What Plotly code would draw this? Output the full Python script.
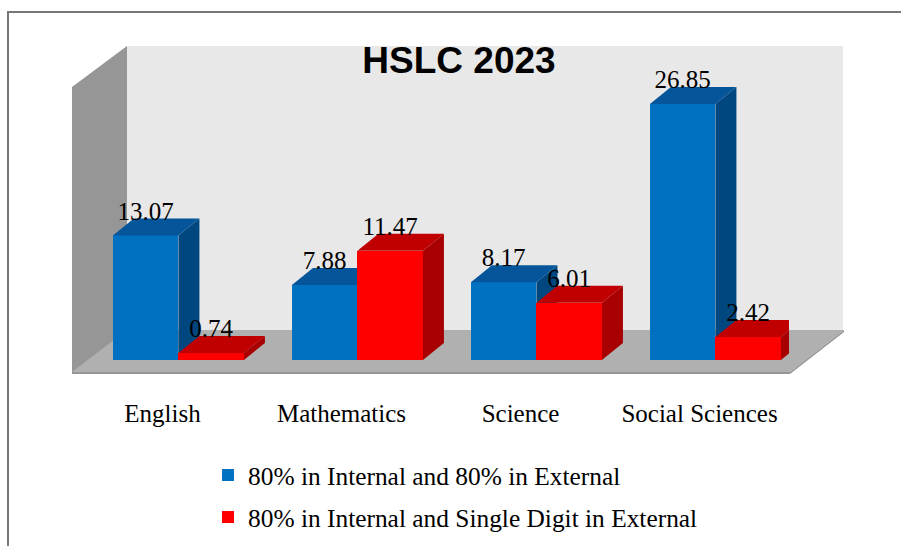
import plotly.graph_objects as go

categories = ["English", "Mathematics", "Science", "Social Sciences"]
external_80 = [13.07, 7.88, 8.17, 26.85]
single_digit = [0.74, 11.47, 6.01, 2.42]
name_a = "80% in Internal and 80% in External"
name_b = "80% in Internal and Single Digit in External"
title_text = "HSLC 2023"

W, H = 901, 546
L, R, T, B = 73, 789, 45, 374
BASE = 360
PX_PER_UNIT = 9.53
PX_PER_CAT = (R - L) / 4
DX = 21 / PX_PER_CAT
DY = 17 / PX_PER_UNIT
BAR_W = 65.5 / PX_PER_CAT
OFF_A, OFF_B = -0.094, 0.272
SERIF = "Liberation Serif"


def px(x):
    return x / W


def py(y):
    return 1 - y / H


def poly(points):
    return "M" + " L".join(f"{px(a):.5f},{py(b):.5f}" for a, b in points) + " Z"


def faces(values, offset, side, top, xa, ya):
    out = []
    for i, v in enumerate(values):
        x0 = i + offset - BAR_W / 2
        x1 = i + offset + BAR_W / 2
        out.append(go.Scatter(
            x=[x1, x1 + DX, x1 + DX, x1, x1], y=[0, DY, v + DY, v, 0],
            fill="toself", fillcolor=side, mode="lines", line=dict(width=0),
            hoverinfo="skip", showlegend=False, xaxis=xa, yaxis=ya))
        out.append(go.Scatter(
            x=[x0, x1, x1 + DX, x0 + DX, x0], y=[v, v, v + DY, v + DY, v],
            fill="toself", fillcolor=top, mode="lines", line=dict(width=0),
            hoverinfo="skip", showlegend=False, xaxis=xa, yaxis=ya))
    return out


fig = go.Figure()
idx = list(range(len(categories)))
fig.add_trace(go.Bar(x=[i + OFF_A for i in idx], y=external_80, width=BAR_W, name=name_a,
                     marker=dict(color="#0070C0", line=dict(width=0)),
                     legendgroup="a", xaxis="x", yaxis="y"))
for t in faces(external_80, OFF_A, "#00477F", "#05559A", "x", "y"):
    fig.add_trace(t)
fig.add_trace(go.Bar(x=[i + OFF_B for i in idx], y=single_digit, width=BAR_W, name=name_b,
                     marker=dict(color="#FF0000", line=dict(width=0)),
                     legendgroup="b", xaxis="x2", yaxis="y2"))
for t in faces(single_digit, OFF_B, "#A80000", "#C00000", "x2", "y2"):
    fig.add_trace(t)

LABEL_UP = 22 / PX_PER_UNIT
for vals, off in ((external_80, OFF_A), (single_digit, OFF_B)):
    fig.add_trace(go.Scatter(
        x=[i + off for i in idx], y=[v + LABEL_UP for v in vals],
        text=[f"{v:.2f}" for v in vals], mode="text", textposition="middle center",
        textfont=dict(family=SERIF, size=25, color="#000000"),
        hoverinfo="skip", showlegend=False, xaxis="x2", yaxis="y2"))

shapes = [
    dict(type="path", path=poly([(127, 46), (843, 46), (843, 331), (127, 331)]),
         fillcolor="#E8E8E8", line=dict(width=0), xref="paper", yref="paper", layer="below"),
    dict(type="path", path=poly([(72, 87), (127, 46), (127, 331), (72, 374)]),
         fillcolor="#969696", line=dict(width=0), xref="paper", yref="paper", layer="below"),
    dict(type="path", path=poly([(72, 372), (127, 330), (844, 330), (790, 372)]),
         fillcolor="#B0B0B0", line=dict(width=0), xref="paper", yref="paper", layer="below"),
    dict(type="path", path=poly([(72, 372), (790, 372), (844, 330), (844, 332), (790, 374), (72, 374)]),
         fillcolor="#969696", line=dict(width=0), xref="paper", yref="paper", layer="below"),
    dict(type="path", path=f"M{px(8):.5f},{py(H + 5):.5f} L{px(8):.5f},{py(12):.5f} L{px(W + 5):.5f},{py(12):.5f}",
         line=dict(color="#777777", width=2), xref="paper", yref="paper", layer="below"),
]

axis_x = dict(range=[-0.5, 3.5], domain=[L / W, R / W], showgrid=False, zeroline=False,
              showline=False, fixedrange=True)
axis_y = dict(range=[(BASE - B) / PX_PER_UNIT, (BASE - T) / PX_PER_UNIT], domain=[1 - B / H, 1 - T / H],
              showgrid=False, zeroline=False, visible=False, fixedrange=True)

fig.update_layout(
    width=W, height=H, autosize=False,
    margin=dict(l=0, r=0, t=0, b=0, pad=0),
    paper_bgcolor="#FFFFFF", plot_bgcolor="rgba(0,0,0,0)",
    barmode="overlay", bargap=0,
    title=dict(text=f"<b>{title_text}</b>", x=459 / W, xanchor="center", xref="container",
               y=1 - 60 / H, yanchor="middle", yref="container",
               font=dict(family="Liberation Sans", size=37, color="#000000")),
    xaxis=dict(axis_x, tickmode="array", tickvals=idx, ticktext=categories, ticks="",
               ticklabelstandoff=22, tickangle=0, tickfont=dict(family=SERIF, size=25, color="#000000")),
    yaxis=axis_y,
    xaxis2=dict(axis_x, overlaying="x", visible=False, anchor="y2"),
    yaxis2=dict(axis_y, overlaying="y", anchor="x2"),
    legend=dict(x=px(208), xanchor="left", y=py(541), yanchor="bottom",
                bgcolor="rgba(0,0,0,0)", traceorder="grouped", tracegroupgap=6, orientation="v",
                font=dict(family=SERIF, size=25.4, color="#000000")),
    shapes=shapes,
    showlegend=True,
)
fig.write_html("out.html", config=dict(displayModeBar=False),
               post_script="document.body.style.margin='0';")
